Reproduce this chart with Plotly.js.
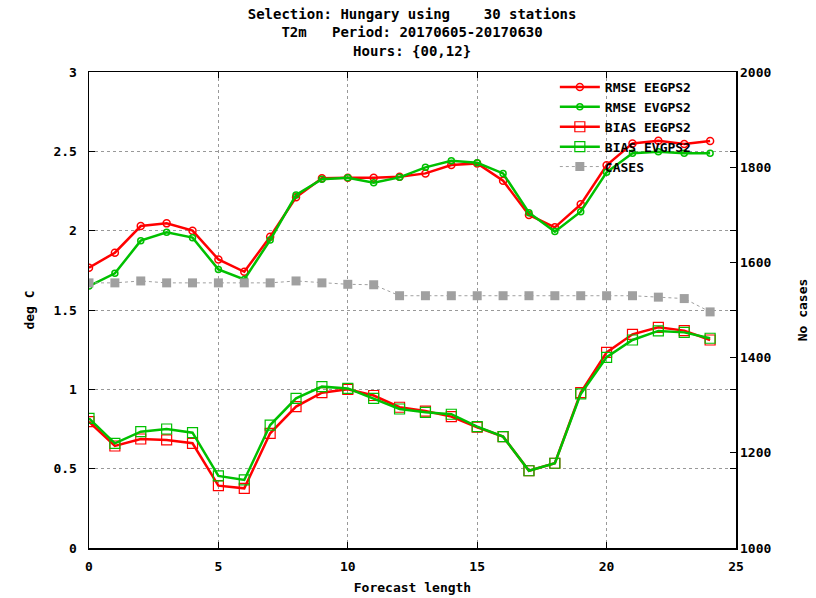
<!DOCTYPE html>
<html><head><meta charset="utf-8">
<script src="https://cdn.plot.ly/plotly-3.0.1.min.js"></script>
<style>html,body{margin:0;padding:0;background:#fff}#chart{width:816px;height:598px}</style>
</head><body><div id="chart"></div>
<script>
const forecastLength = [0,1,2,3,4,5,6,7,8,9,10,11,12,13,14,15,16,17,18,19,20,21,22,23,24];
const rmseEEGPS2 = [1.766,1.861,2.029,2.046,2.0,1.819,1.741,1.962,2.21,2.33,2.334,2.333,2.34,2.361,2.414,2.424,2.315,2.099,2.021,2.166,2.412,2.55,2.567,2.546,2.565];
const rmseEVGPS2 = [1.651,1.731,1.937,1.99,1.956,1.756,1.693,1.941,2.225,2.324,2.334,2.302,2.336,2.399,2.441,2.428,2.361,2.113,1.994,2.12,2.368,2.488,2.498,2.488,2.488];
const biasEEGPS2 = [0.796,0.643,0.687,0.681,0.66,0.393,0.376,0.723,0.891,0.979,1.0,0.961,0.887,0.863,0.828,0.761,0.702,0.487,0.534,0.979,1.233,1.347,1.391,1.37,1.311];
const biasEVGPS2 = [0.817,0.66,0.733,0.75,0.727,0.454,0.429,0.775,0.943,1.017,1.006,0.943,0.876,0.855,0.843,0.765,0.702,0.487,0.534,0.971,1.202,1.311,1.368,1.359,1.322];
const cases = [1557,1557,1561,1557,1557,1557,1557,1557,1561,1557,1554,1553,1530,1530,1530,1530,1530,1530,1530,1530,1530,1530,1527,1524,1496];
const yTicks = [0,0.5,1,1.5,2,2.5,3];
const yTickText = ['0','0.5','1','1.5','2','2.5','3'];
const y2Ticks = [1000,1200,1400,1600,1800,2000];

const FONT = 'DejaVu Sans Mono, monospace';
const RED = '#ff0000', GREEN = '#00c000', GREY = '#a0a0a0';

const traces = [
  {x: forecastLength, y: rmseEEGPS2, name: 'RMSE EEGPS2', type: 'scatter', mode: 'lines+markers',
   line: {color: RED, width: 2.5}, marker: {symbol: 'circle-open', size: 7, color: RED, line: {width: 1.5}}},
  {x: forecastLength, y: rmseEVGPS2, name: 'RMSE EVGPS2', type: 'scatter', mode: 'lines+markers',
   line: {color: GREEN, width: 2.5}, marker: {symbol: 'circle-open', size: 6, color: GREEN, line: {width: 1.5}}},
  {x: forecastLength, y: biasEEGPS2, name: 'BIAS EEGPS2', type: 'scatter', mode: 'lines+markers',
   line: {color: RED, width: 2.5}, marker: {symbol: 'square-open', size: 10, color: RED, line: {width: 1.2}}},
  {x: forecastLength, y: biasEVGPS2, name: 'BIAS EVGPS2', type: 'scatter', mode: 'lines+markers',
   line: {color: GREEN, width: 2.5}, marker: {symbol: 'square-open', size: 10, color: GREEN, line: {width: 1.2}}},
  {x: forecastLength, y: cases, name: 'CASES', yaxis: 'y2', type: 'scatter', mode: 'lines+markers',
   line: {color: GREY, width: 1, dash: 'dot'}, marker: {symbol: 'square', size: 9, color: GREY}}
];

const layout = {
  width: 816, height: 598,
  margin: {l: 89, r: 80, t: 72, b: 50},
  paper_bgcolor: '#fff', plot_bgcolor: '#fff',
  font: {family: FONT, size: 13, color: '#000', weight: 'bold'},
  title: {text: 'Selection: Hungary using    30 stations<br>T2m   Period: 20170605-20170630<br>Hours: {00,12}',
          font: {family: FONT, size: 14, weight: 'bold', color: '#000'},
          x: 0.505, xanchor: 'center', y: 0.968, yanchor: 'top'},
  showlegend: true,
  legend: {x: 0.72, xanchor: 'left', y: 1.0, yanchor: 'top', bgcolor: 'rgba(0,0,0,0)',
           font: {family: FONT, size: 13, weight: 'bold'}, tracegroupgap: 0, itemwidth: 40},
  xaxis: {range: [0, 25], tickvals: [0,5,10,15,20,25], ticktext: ['0','5','10','15','20','25'],
          showgrid: true, gridcolor: '#999', griddash: 'dot', gridwidth: 1,
          showline: true, linecolor: '#000', linewidth: 1.5, mirror: 'ticks',
          ticks: 'inside', ticklen: 6, tickcolor: '#000', zeroline: false, ticklabelstandoff: 6,
          tickfont: {family: FONT, size: 13, weight: 'bold'},
          title: {text: 'Forecast length', font: {family: FONT, size: 13, weight: 'bold'}, standoff: 10}},
  yaxis: {range: [0, 3], tickvals: yTicks, ticktext: yTickText,
          showgrid: true, gridcolor: '#999', griddash: 'dot', gridwidth: 1,
          showline: true, linecolor: '#000', linewidth: 1.5, mirror: 'ticks',
          ticks: 'inside', ticklen: 6, tickcolor: '#000', zeroline: false, ticklabelstandoff: 8,
          tickfont: {family: FONT, size: 13, weight: 'bold'},
          title: {text: 'deg C', font: {family: FONT, size: 13, weight: 'bold'}, standoff: 16}},
  yaxis2: {range: [1000, 2000], tickvals: y2Ticks, overlaying: 'y', side: 'right',
           showgrid: false, showline: false, zeroline: false,
           ticks: 'inside', ticklen: 6, tickcolor: '#000', ticklabelstandoff: 3,
           tickfont: {family: FONT, size: 13, weight: 'bold'},
           title: {text: 'No cases', font: {family: FONT, size: 13, weight: 'bold'}, standoff: 27}}
};

Plotly.newPlot('chart', traces, layout, {displayModeBar: false, staticPlot: true});
</script></body></html>
